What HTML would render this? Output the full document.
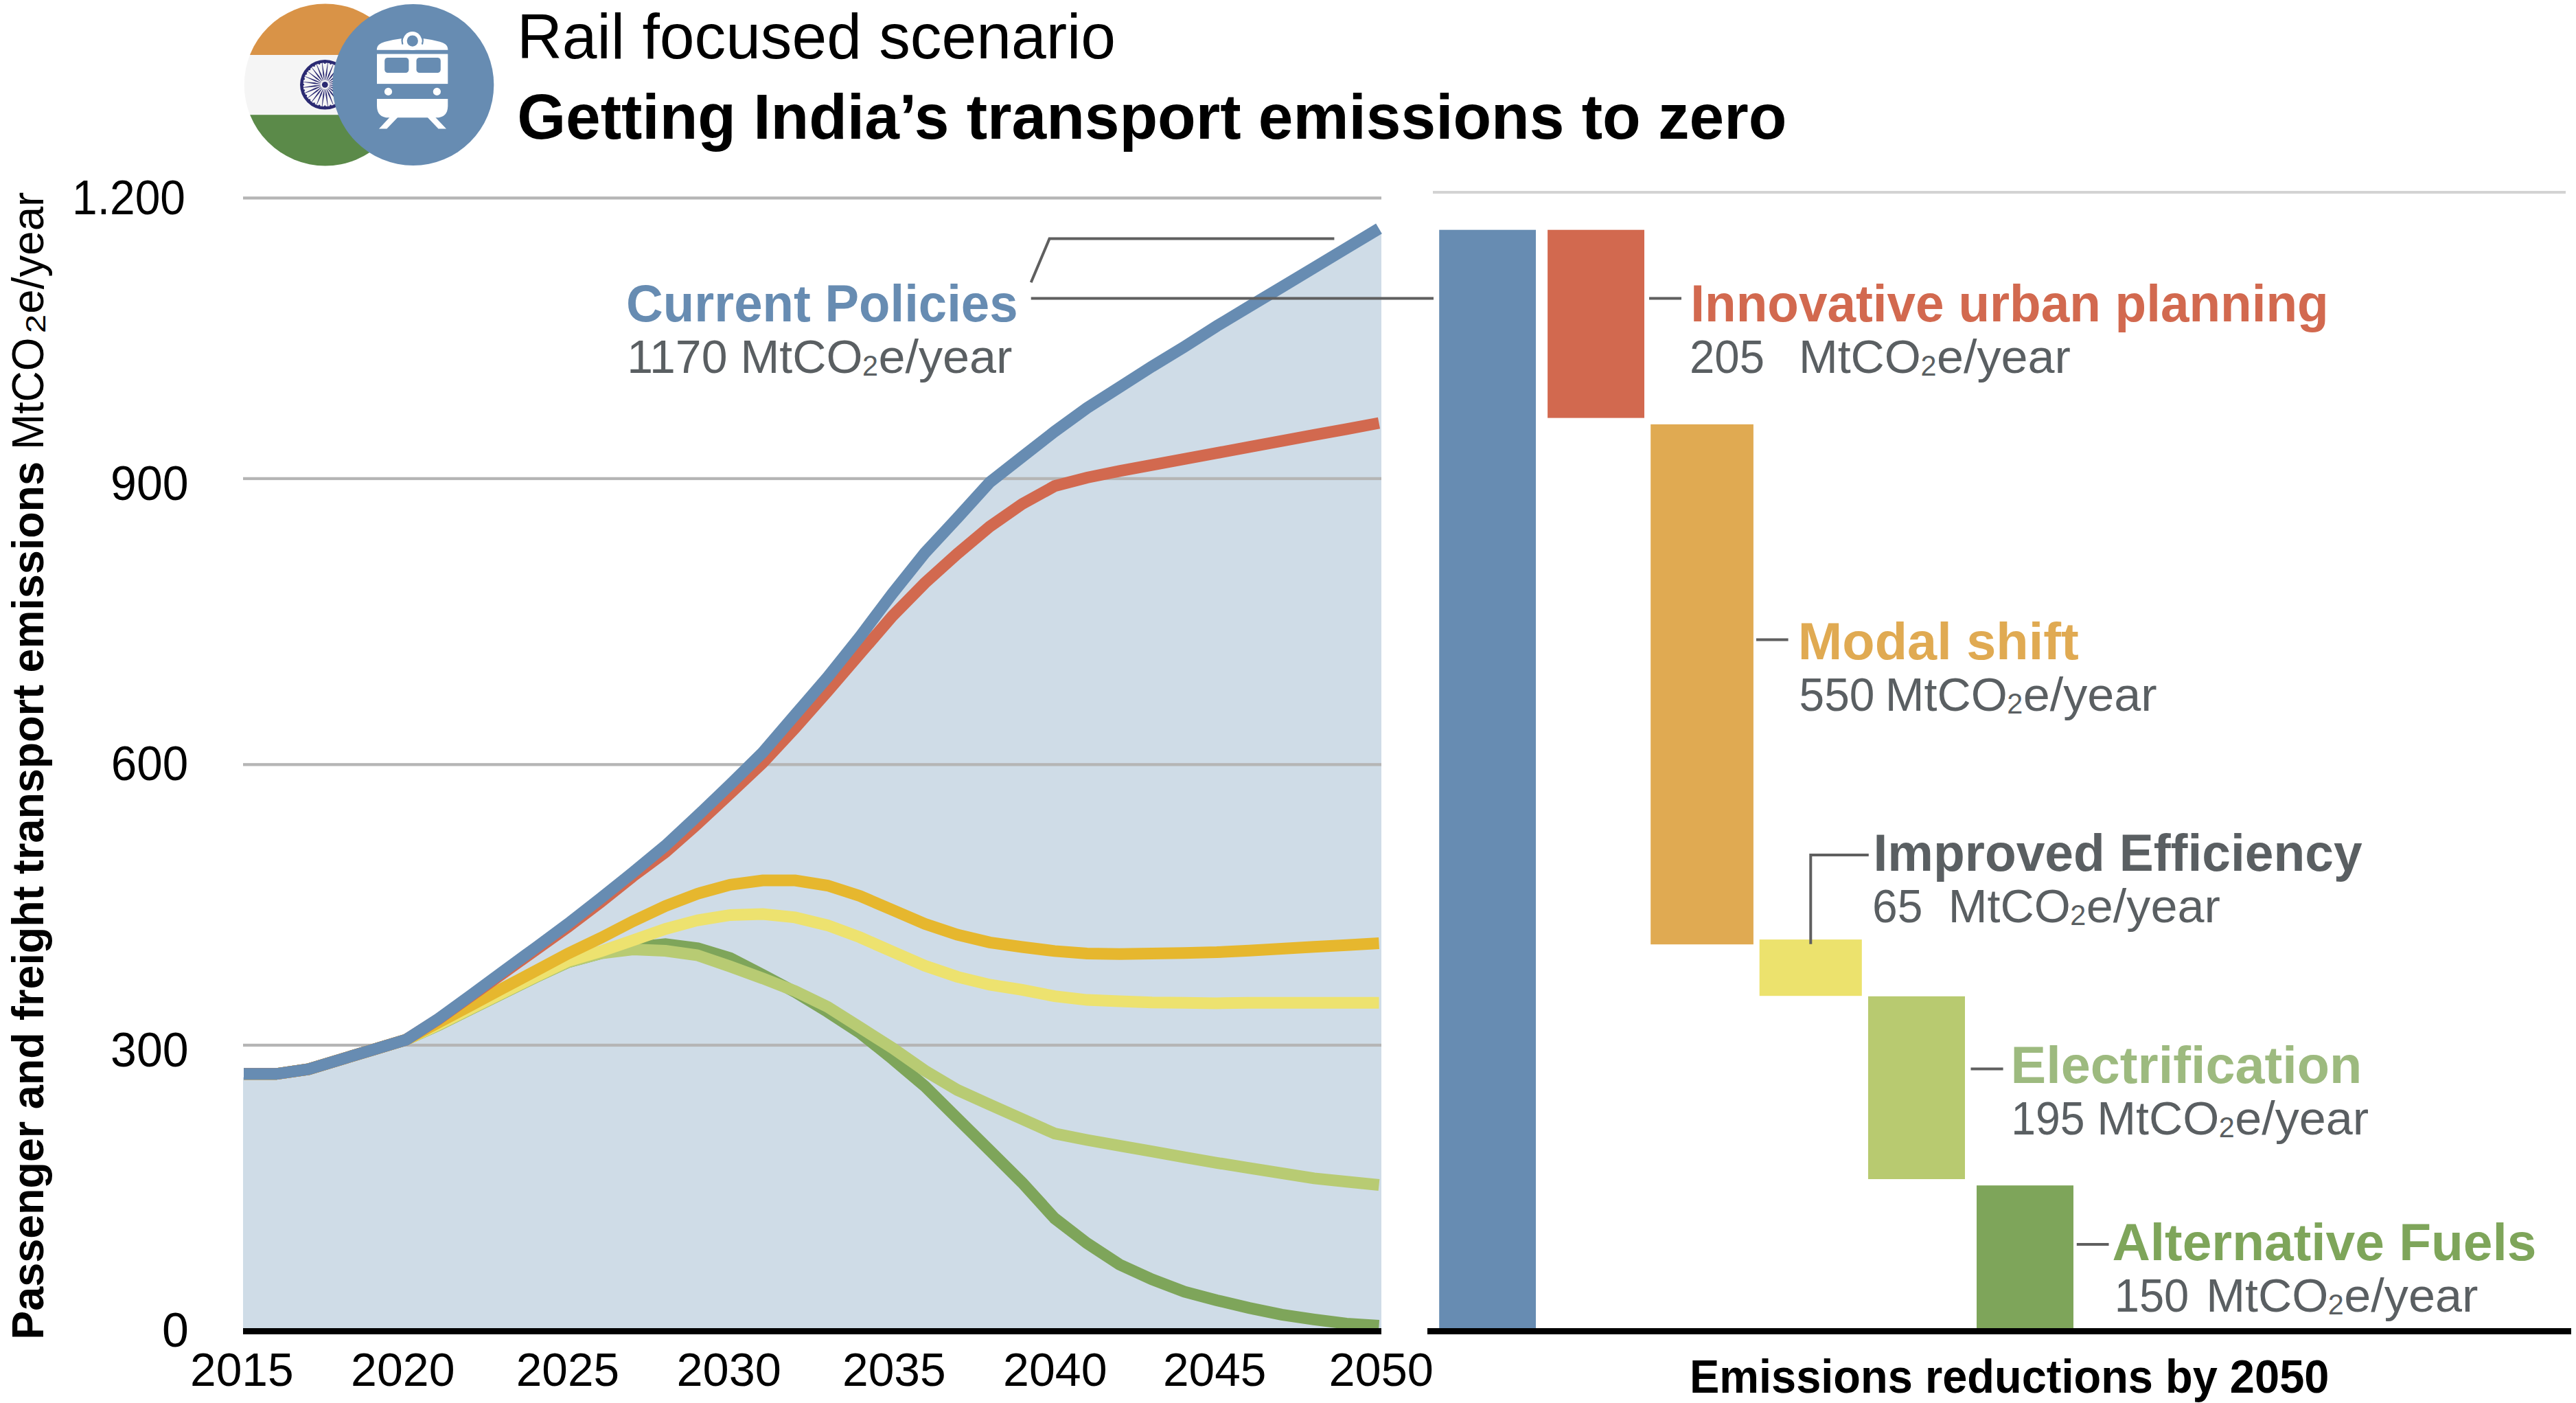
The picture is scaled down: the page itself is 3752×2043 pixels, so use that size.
<!DOCTYPE html>
<html><head><meta charset="utf-8"><title>Rail focused scenario</title>
<style>html,body{margin:0;padding:0;background:#fff;overflow:hidden}svg{display:block}</style>
</head><body>
<svg width="3752" height="2043" viewBox="0 0 3752 2043">
<rect width="3752" height="2043" fill="#fff"/>
<g>
<clipPath id="fc"><circle cx="473.7" cy="123.4" r="118"/></clipPath>
<g clip-path="url(#fc)"><rect x="350" y="0" width="250" height="80" fill="#d99347"/><rect x="350" y="80" width="250" height="87.2" fill="#f5f5f5"/><rect x="350" y="167.2" width="250" height="80" fill="#5b8a49"/></g>
<circle cx="473.30" cy="123.30" r="34" fill="none" stroke="#2b2a72" stroke-width="4.6"/>
<path d="M479.71,124.40 L488.04,126.25 L504.49,127.71 L504.57,127.11 L488.30,124.27 L479.78,123.90 Z M479.21,126.02 L486.78,129.96 L502.29,135.63 L502.52,135.08 L487.54,128.12 L479.40,125.56 Z M478.30,127.46 L484.59,133.22 L498.11,142.71 L498.47,142.24 L485.81,131.64 L478.61,127.06 Z M477.06,128.61 L481.64,135.81 L492.24,148.47 L492.71,148.11 L483.22,134.59 L477.46,128.30 Z M475.56,129.40 L478.12,137.54 L485.08,152.52 L485.63,152.29 L479.96,136.78 L476.02,129.21 Z M473.90,129.78 L474.27,138.30 L477.11,154.57 L477.71,154.49 L476.25,138.04 L474.40,129.71 Z M472.20,129.71 L470.35,138.04 L468.89,154.49 L469.49,154.57 L472.33,138.30 L472.70,129.78 Z M470.58,129.21 L466.64,136.78 L460.97,152.29 L461.52,152.52 L468.48,137.54 L471.04,129.40 Z M469.14,128.30 L463.38,134.59 L453.89,148.11 L454.36,148.47 L464.96,135.81 L469.54,128.61 Z M467.99,127.06 L460.79,131.64 L448.13,142.24 L448.49,142.71 L462.01,133.22 L468.30,127.46 Z M467.20,125.56 L459.06,128.12 L444.08,135.08 L444.31,135.63 L459.82,129.96 L467.39,126.02 Z M466.82,123.90 L458.30,124.27 L442.03,127.11 L442.11,127.71 L458.56,126.25 L466.89,124.40 Z M466.89,122.20 L458.56,120.35 L442.11,118.89 L442.03,119.49 L458.30,122.33 L466.82,122.70 Z M467.39,120.58 L459.82,116.64 L444.31,110.97 L444.08,111.52 L459.06,118.48 L467.20,121.04 Z M468.30,119.14 L462.01,113.38 L448.49,103.89 L448.13,104.36 L460.79,114.96 L467.99,119.54 Z M469.54,117.99 L464.96,110.79 L454.36,98.13 L453.89,98.49 L463.38,112.01 L469.14,118.30 Z M471.04,117.20 L468.48,109.06 L461.52,94.08 L460.97,94.31 L466.64,109.82 L470.58,117.39 Z M472.70,116.82 L472.33,108.30 L469.49,92.03 L468.89,92.11 L470.35,108.56 L472.20,116.89 Z M474.40,116.89 L476.25,108.56 L477.71,92.11 L477.11,92.03 L474.27,108.30 L473.90,116.82 Z M476.02,117.39 L479.96,109.82 L485.63,94.31 L485.08,94.08 L478.12,109.06 L475.56,117.20 Z M477.46,118.30 L483.22,112.01 L492.71,98.49 L492.24,98.13 L481.64,110.79 L477.06,117.99 Z M478.61,119.54 L485.81,114.96 L498.47,104.36 L498.11,103.89 L484.59,113.38 L478.30,119.14 Z M479.40,121.04 L487.54,118.48 L502.52,111.52 L502.29,110.97 L486.78,116.64 L479.21,120.58 Z M479.78,122.70 L488.30,122.33 L504.57,119.49 L504.49,118.89 L488.04,120.35 L479.71,122.20 Z" fill="#2b2a72"/>
<circle cx="504.90" cy="123.30" r="1.3" fill="#2b2a72"/><circle cx="503.82" cy="131.48" r="1.3" fill="#2b2a72"/><circle cx="500.67" cy="139.10" r="1.3" fill="#2b2a72"/><circle cx="495.64" cy="145.64" r="1.3" fill="#2b2a72"/><circle cx="489.10" cy="150.67" r="1.3" fill="#2b2a72"/><circle cx="481.48" cy="153.82" r="1.3" fill="#2b2a72"/><circle cx="473.30" cy="154.90" r="1.3" fill="#2b2a72"/><circle cx="465.12" cy="153.82" r="1.3" fill="#2b2a72"/><circle cx="457.50" cy="150.67" r="1.3" fill="#2b2a72"/><circle cx="450.96" cy="145.64" r="1.3" fill="#2b2a72"/><circle cx="445.93" cy="139.10" r="1.3" fill="#2b2a72"/><circle cx="442.78" cy="131.48" r="1.3" fill="#2b2a72"/><circle cx="441.70" cy="123.30" r="1.3" fill="#2b2a72"/><circle cx="442.78" cy="115.12" r="1.3" fill="#2b2a72"/><circle cx="445.93" cy="107.50" r="1.3" fill="#2b2a72"/><circle cx="450.96" cy="100.96" r="1.3" fill="#2b2a72"/><circle cx="457.50" cy="95.93" r="1.3" fill="#2b2a72"/><circle cx="465.12" cy="92.78" r="1.3" fill="#2b2a72"/><circle cx="473.30" cy="91.70" r="1.3" fill="#2b2a72"/><circle cx="481.48" cy="92.78" r="1.3" fill="#2b2a72"/><circle cx="489.10" cy="95.93" r="1.3" fill="#2b2a72"/><circle cx="495.64" cy="100.96" r="1.3" fill="#2b2a72"/><circle cx="500.67" cy="107.50" r="1.3" fill="#2b2a72"/><circle cx="503.82" cy="115.12" r="1.3" fill="#2b2a72"/>
<circle cx="473.30" cy="123.30" r="4.4" fill="#2b2a72"/>
<circle cx="601.8" cy="123.5" r="117.5" fill="#678cb2"/>
<path d="M548.8,72.8 C548.9,66.5 552.5,63.2 561,60.8 Q572,57.8 585.5,56.1 L616,56.1 Q629.5,57.8 640.5,60.8 C649,63.2 652.3,66.5 652.4,72.8 Z" fill="#ffffff"/>
<path d="M586.0,55.4 A14.9,14.9 0 0 0 586.3,63.6 M615.4,55.4 A14.9,14.9 0 0 1 615.1,63.6" fill="none" stroke="#678cb2" stroke-width="2.4" stroke-linecap="round"/>
<circle cx="600.7" cy="59.5" r="13.6" fill="#ffffff"/>
<circle cx="600.8" cy="59.6" r="8.1" fill="#678cb2"/>
<rect x="549" y="78.6" width="103.3" height="43.5" fill="#ffffff"/>
<rect x="560.2" y="84" width="35.2" height="22" rx="4.5" fill="#678cb2"/>
<rect x="606.5" y="84" width="35.3" height="22" rx="4.5" fill="#678cb2"/>
<circle cx="565.5" cy="133.4" r="5.6" fill="#ffffff"/><circle cx="636.4" cy="133.4" r="5.6" fill="#ffffff"/>
<path d="M549,144.1 L652.3,144.1 L652.3,153.9 Q652.3,171.3 634.9,171.3 L566.4,171.3 Q549,171.3 549,153.9 Z" fill="#ffffff"/>
<path d="M567.4,171 L579.2,171 L563.4,187.6 L552,187.6 Z M622.8,171 L634.3,171 L650,187.6 L638.5,187.6 Z" fill="#ffffff"/>
</g>
<text x="753.0" y="85.0" style="font-family:'Liberation Sans',sans-serif;font-size:93.6px;font-weight:normal" fill="#000" text-anchor="start" textLength="872.0" lengthAdjust="spacingAndGlyphs" >Rail focused scenario</text>
<text x="753.2" y="202.0" style="font-family:'Liberation Sans',sans-serif;font-size:93.5px;font-weight:bold" fill="#000" text-anchor="start" textLength="1849.1" lengthAdjust="spacingAndGlyphs" >Getting India’s transport emissions to zero</text>
<polygon points="354,1934 354,1568.8 355.0,1568.8 402.2,1568.8 449.5,1562.0 496.7,1547.6 544.0,1533.3 591.2,1519.1 638.5,1488.6 685.7,1454.4 732.9,1419.5 780.2,1385.0 827.4,1350.2 874.7,1313.2 921.9,1275.5 969.2,1236.4 1016.4,1192.6 1063.6,1147.3 1110.9,1100.7 1158.1,1045.9 1205.4,991.1 1252.6,932.1 1299.9,869.1 1347.1,810.1 1394.3,759.4 1441.6,707.3 1488.8,670.3 1536.1,633.3 1583.3,599.1 1630.6,568.9 1677.8,538.7 1725.0,510.0 1772.3,479.8 1819.5,451.4 1866.8,423.1 1914.0,394.7 1961.3,366.3 2008.5,337.9 2012,340.9 2012,1934" fill="#cfdce7"/>
<rect x="354" y="286.2" width="1658" height="4.3" fill="#b5b5b5"/>
<rect x="354" y="694.8" width="1658" height="4.3" fill="#b5b5b5"/>
<rect x="354" y="1111.2" width="1658" height="4.3" fill="#b5b5b5"/>
<rect x="354" y="1519.8" width="1658" height="4.3" fill="#b5b5b5"/>
<polyline points="355.0,1563.8 402.2,1563.8 449.5,1557.0 496.7,1542.6 544.0,1528.3 591.2,1514.1 638.5,1492.8 685.7,1469.5 732.9,1446.2 780.2,1422.9 827.4,1401.0 874.7,1388.2 921.9,1379.7 969.2,1374.7 1016.4,1380.8 1063.6,1395.2 1110.9,1419.5 1158.1,1444.6 1205.4,1473.3 1252.6,1504.0 1299.9,1541.9 1347.1,1581.8 1394.3,1628.5 1441.6,1675.2 1488.8,1722.1 1536.1,1774.1 1583.3,1810.4 1630.6,1841.4 1677.8,1863.0 1725.0,1881.0 1772.3,1893.5 1819.5,1904.6 1866.8,1914.4 1914.0,1921.3 1961.3,1927.4 2008.5,1930.5" fill="none" stroke="#7ea55a" stroke-width="17" stroke-linejoin="miter" stroke-miterlimit="4" stroke-linecap="butt"/>
<polyline points="355.0,1563.8 402.2,1563.8 449.5,1557.0 496.7,1542.6 544.0,1528.3 591.2,1514.1 638.5,1492.8 685.7,1469.5 732.9,1446.2 780.2,1422.9 827.4,1401.0 874.7,1388.2 921.9,1382.5 969.2,1384.5 1016.4,1391.2 1063.6,1407.4 1110.9,1424.7 1158.1,1443.2 1205.4,1466.1 1252.6,1496.0 1299.9,1526.1 1347.1,1559.0 1394.3,1587.1 1441.6,1608.6 1488.8,1629.5 1536.1,1650.6 1583.3,1660.0 1630.6,1668.4 1677.8,1676.7 1725.0,1685.1 1772.3,1693.3 1819.5,1700.9 1866.8,1708.4 1914.0,1715.9 1961.3,1720.7 2008.5,1725.5" fill="none" stroke="#b8cb73" stroke-width="17" stroke-linejoin="miter" stroke-miterlimit="4" stroke-linecap="butt"/>
<polyline points="355.0,1563.8 402.2,1563.8 449.5,1557.0 496.7,1542.6 544.0,1528.3 591.2,1514.1 638.5,1491.8 685.7,1468.5 732.9,1445.2 780.2,1421.9 827.4,1399.3 874.7,1385.5 921.9,1369.2 969.2,1352.7 1016.4,1340.0 1063.6,1332.4 1110.9,1331.1 1158.1,1335.9 1205.4,1347.4 1252.6,1364.9 1299.9,1385.8 1347.1,1406.2 1394.3,1422.4 1441.6,1433.9 1488.8,1441.3 1536.1,1450.7 1583.3,1456.1 1630.6,1458.1 1677.8,1459.8 1725.0,1460.3 1772.3,1460.9 1819.5,1460.3 1866.8,1460.3 1914.0,1460.3 1961.3,1460.3 2008.5,1460.3" fill="none" stroke="#ede26f" stroke-width="17" stroke-linejoin="miter" stroke-miterlimit="4" stroke-linecap="butt"/>
<polyline points="355.0,1563.8 402.2,1563.8 449.5,1557.0 496.7,1542.6 544.0,1528.3 591.2,1514.1 638.5,1489.0 685.7,1463.9 732.9,1438.8 780.2,1413.7 827.4,1388.6 874.7,1366.0 921.9,1341.5 969.2,1319.3 1016.4,1301.3 1063.6,1288.3 1110.9,1282.1 1158.1,1282.1 1205.4,1289.5 1252.6,1304.7 1299.9,1325.0 1347.1,1345.3 1394.3,1361.1 1441.6,1372.3 1488.8,1379.0 1536.1,1384.9 1583.3,1388.5 1630.6,1389.2 1677.8,1388.5 1725.0,1387.7 1772.3,1386.6 1819.5,1384.2 1866.8,1381.5 1914.0,1378.8 1961.3,1376.2 2008.5,1373.6" fill="none" stroke="#e6b72e" stroke-width="17" stroke-linejoin="miter" stroke-miterlimit="4" stroke-linecap="butt"/>
<polyline points="355.0,1563.8 402.2,1563.8 449.5,1557.0 496.7,1542.6 544.0,1528.3 591.2,1514.1 638.5,1484.2 685.7,1450.6 732.9,1417.0 780.2,1383.3 827.4,1349.7 874.7,1313.7 921.9,1276.0 969.2,1241.0 1016.4,1199.2 1063.6,1155.3 1110.9,1110.8 1158.1,1060.1 1205.4,1006.6 1252.6,951.8 1299.9,897.0 1347.1,849.0 1394.3,806.5 1441.6,766.8 1488.8,733.9 1536.1,707.8 1583.3,695.5 1630.6,685.9 1677.8,677.1 1725.0,668.3 1772.3,659.7 1819.5,650.9 1866.8,642.2 1914.0,633.4 1961.3,624.8 2008.5,616.0" fill="none" stroke="#d2694f" stroke-width="17" stroke-linejoin="miter" stroke-miterlimit="4" stroke-linecap="butt"/>
<polyline points="355.0,1563.8 402.2,1563.8 449.5,1557.0 496.7,1542.6 544.0,1528.3 591.2,1514.1 638.5,1483.6 685.7,1449.4 732.9,1414.5 780.2,1380.0 827.4,1345.2 874.7,1308.2 921.9,1270.5 969.2,1231.4 1016.4,1187.6 1063.6,1142.3 1110.9,1095.7 1158.1,1040.9 1205.4,986.1 1252.6,927.1 1299.9,864.1 1347.1,805.1 1394.3,754.4 1441.6,702.3 1488.8,665.3 1536.1,628.3 1583.3,594.1 1630.6,563.9 1677.8,533.7 1725.0,505.0 1772.3,474.8 1819.5,446.4 1866.8,418.1 1914.0,389.7 1961.3,361.3 2008.5,332.9" fill="none" stroke="#678cb2" stroke-width="17" stroke-linejoin="miter" stroke-miterlimit="4" stroke-linecap="butt"/>
<rect x="354" y="1934" width="1658" height="9" fill="#000"/>
<text x="236.0" y="1961.1" style="font-family:'Liberation Sans',sans-serif;font-size:69.5px;font-weight:normal" fill="#000" text-anchor="start" textLength="38.9" lengthAdjust="spacingAndGlyphs" >0</text>
<text x="161.1" y="1553.0" style="font-family:'Liberation Sans',sans-serif;font-size:69.5px;font-weight:normal" fill="#000" text-anchor="start" textLength="113.6" lengthAdjust="spacingAndGlyphs" >300</text>
<text x="161.8" y="1136.2" style="font-family:'Liberation Sans',sans-serif;font-size:69.5px;font-weight:normal" fill="#000" text-anchor="start" textLength="112.5" lengthAdjust="spacingAndGlyphs" >600</text>
<text x="161.1" y="728.1" style="font-family:'Liberation Sans',sans-serif;font-size:69.5px;font-weight:normal" fill="#000" text-anchor="start" textLength="113.6" lengthAdjust="spacingAndGlyphs" >900</text>
<text x="105.0" y="311.6" style="font-family:'Liberation Sans',sans-serif;font-size:69.5px;font-weight:normal" fill="#000" text-anchor="start" textLength="165.0" lengthAdjust="spacingAndGlyphs" >1.200</text>
<text x="277.0" y="2017.6" style="font-family:'Liberation Sans',sans-serif;font-size:69.0px;font-weight:normal" fill="#000" text-anchor="start" textLength="150.7" lengthAdjust="spacingAndGlyphs" >2015</text>
<text x="511.1" y="2017.6" style="font-family:'Liberation Sans',sans-serif;font-size:69.0px;font-weight:normal" fill="#000" text-anchor="start" textLength="151.4" lengthAdjust="spacingAndGlyphs" >2020</text>
<text x="751.8" y="2017.6" style="font-family:'Liberation Sans',sans-serif;font-size:69.0px;font-weight:normal" fill="#000" text-anchor="start" textLength="150.2" lengthAdjust="spacingAndGlyphs" >2025</text>
<text x="985.5" y="2017.6" style="font-family:'Liberation Sans',sans-serif;font-size:69.0px;font-weight:normal" fill="#000" text-anchor="start" textLength="152.5" lengthAdjust="spacingAndGlyphs" >2030</text>
<text x="1227.0" y="2017.6" style="font-family:'Liberation Sans',sans-serif;font-size:69.0px;font-weight:normal" fill="#000" text-anchor="start" textLength="150.7" lengthAdjust="spacingAndGlyphs" >2035</text>
<text x="1461.1" y="2017.6" style="font-family:'Liberation Sans',sans-serif;font-size:69.0px;font-weight:normal" fill="#000" text-anchor="start" textLength="151.4" lengthAdjust="spacingAndGlyphs" >2040</text>
<text x="1694.0" y="2017.6" style="font-family:'Liberation Sans',sans-serif;font-size:69.0px;font-weight:normal" fill="#000" text-anchor="start" textLength="150.3" lengthAdjust="spacingAndGlyphs" >2045</text>
<text x="1935.5" y="2017.6" style="font-family:'Liberation Sans',sans-serif;font-size:69.0px;font-weight:normal" fill="#000" text-anchor="start" textLength="152.5" lengthAdjust="spacingAndGlyphs" >2050</text>
<text transform="translate(62.6,1950.7) rotate(-90)" style="font-family:'Liberation Sans',sans-serif;font-size:65.4px;font-weight:bold" fill="#000" textLength="1278.7" lengthAdjust="spacingAndGlyphs">Passenger and freight transport emissions</text>
<text transform="translate(62.6,655.0) rotate(-90)" style="font-family:'Liberation Sans',sans-serif;font-size:65.4px;font-weight:normal" fill="#000" textLength="163.5" lengthAdjust="spacingAndGlyphs">MtCO</text>
<text transform="translate(66.0,485.3) rotate(-90)" style="font-family:'Liberation Sans',sans-serif;font-size:40.0px;font-weight:normal" fill="#000" textLength="27.6" lengthAdjust="spacingAndGlyphs">2</text>
<text transform="translate(62.6,456.7) rotate(-90)" style="font-family:'Liberation Sans',sans-serif;font-size:65.4px;font-weight:normal" fill="#000" textLength="177.0" lengthAdjust="spacingAndGlyphs">e/year</text>
<text x="912.1" y="468.0" style="font-family:'Liberation Sans',sans-serif;font-size:76.0px;font-weight:bold" fill="#678cb2" text-anchor="start" textLength="570.5" lengthAdjust="spacingAndGlyphs" >Current Policies</text>
<text x="913.3" y="542.7" style="font-family:'Liberation Sans',sans-serif;font-size:67.6px;font-weight:normal" fill="#5a5f62" text-anchor="start" textLength="146.2" lengthAdjust="spacingAndGlyphs" >1170</text>
<text x="1078.5" y="542.7" style="font-family:'Liberation Sans',sans-serif;font-size:67.6px;font-weight:normal" fill="#5a5f62" text-anchor="start" textLength="178.0" lengthAdjust="spacingAndGlyphs" >MtCO</text><text x="1256.0" y="546.7" style="font-family:'Liberation Sans',sans-serif;font-size:42.0px;font-weight:normal" fill="#5a5f62" text-anchor="start" textLength="23.0" lengthAdjust="spacingAndGlyphs" >2</text><text x="1279.5" y="542.7" style="font-family:'Liberation Sans',sans-serif;font-size:67.6px;font-weight:normal" fill="#5a5f62" text-anchor="start" textLength="195.0" lengthAdjust="spacingAndGlyphs" >e/year</text>
<path d="M1501.7,411.3 L1528.5,347.6 L1943.4,347.6" fill="none" stroke="#5f5f5f" stroke-width="4"/>
<path d="M1501.7,434.5 L2088,434.5" fill="none" stroke="#5f5f5f" stroke-width="4"/>
<rect x="2087" y="278" width="1650" height="4" fill="#d3d3d3"/>
<rect x="2096.2" y="334.7" width="140.8" height="1599.3" fill="#678cb2"/>
<rect x="2254.1" y="334.7" width="140.9" height="273.9" fill="#d2694f"/>
<rect x="2404.2" y="617.9" width="149.7" height="757.3" fill="#e0aa52"/>
<rect x="2562.7" y="1368.1" width="149.1" height="82.1" fill="#ece26d"/>
<rect x="2721.0" y="1450.8" width="141.0" height="266.2" fill="#b8ca70"/>
<rect x="2879.0" y="1726.2" width="141.0" height="207.8" fill="#7ea55a"/>
<rect x="2079" y="1934" width="1666" height="9" fill="#000"/>
<path d="M2402,434.5 L2449,434.5 M2558,931.5 L2604.6,931.5 M2637.3,1374.7 L2637.3,1245 L2721.8,1245 M2870.5,1556.6 L2917.6,1556.6 M3024.8,1812 L3071.5,1812" fill="none" stroke="#5f5f5f" stroke-width="4"/>
<text x="2462.3" y="467.6" style="font-family:'Liberation Sans',sans-serif;font-size:76.0px;font-weight:bold" fill="#d2694f" text-anchor="start" textLength="929.4" lengthAdjust="spacingAndGlyphs" >Innovative urban planning</text>
<text x="2461.0" y="543.0" style="font-family:'Liberation Sans',sans-serif;font-size:67.6px;font-weight:normal" fill="#5a5f62" text-anchor="start" textLength="109.0" lengthAdjust="spacingAndGlyphs" >205</text>
<text x="2619.9" y="543.0" style="font-family:'Liberation Sans',sans-serif;font-size:67.6px;font-weight:normal" fill="#5a5f62" text-anchor="start" textLength="178.0" lengthAdjust="spacingAndGlyphs" >MtCO</text><text x="2797.4" y="547.0" style="font-family:'Liberation Sans',sans-serif;font-size:42.0px;font-weight:normal" fill="#5a5f62" text-anchor="start" textLength="23.0" lengthAdjust="spacingAndGlyphs" >2</text><text x="2820.9" y="543.0" style="font-family:'Liberation Sans',sans-serif;font-size:67.6px;font-weight:normal" fill="#5a5f62" text-anchor="start" textLength="195.0" lengthAdjust="spacingAndGlyphs" >e/year</text>
<text x="2618.8" y="959.6" style="font-family:'Liberation Sans',sans-serif;font-size:76.0px;font-weight:bold" fill="#e0aa52" text-anchor="start" textLength="409.0" lengthAdjust="spacingAndGlyphs" >Modal shift</text>
<text x="2620.6" y="1034.9" style="font-family:'Liberation Sans',sans-serif;font-size:67.6px;font-weight:normal" fill="#5a5f62" text-anchor="start" textLength="109.9" lengthAdjust="spacingAndGlyphs" >550</text>
<text x="2745.7" y="1034.9" style="font-family:'Liberation Sans',sans-serif;font-size:67.6px;font-weight:normal" fill="#5a5f62" text-anchor="start" textLength="178.0" lengthAdjust="spacingAndGlyphs" >MtCO</text><text x="2923.2" y="1038.9" style="font-family:'Liberation Sans',sans-serif;font-size:42.0px;font-weight:normal" fill="#5a5f62" text-anchor="start" textLength="23.0" lengthAdjust="spacingAndGlyphs" >2</text><text x="2946.7" y="1034.9" style="font-family:'Liberation Sans',sans-serif;font-size:67.6px;font-weight:normal" fill="#5a5f62" text-anchor="start" textLength="195.0" lengthAdjust="spacingAndGlyphs" >e/year</text>
<text x="2728.5" y="1267.6" style="font-family:'Liberation Sans',sans-serif;font-size:76.0px;font-weight:bold" fill="#5a5f62" text-anchor="start" textLength="712.2" lengthAdjust="spacingAndGlyphs" >Improved Efficiency</text>
<text x="2727.0" y="1343.1" style="font-family:'Liberation Sans',sans-serif;font-size:67.6px;font-weight:normal" fill="#5a5f62" text-anchor="start" textLength="73.4" lengthAdjust="spacingAndGlyphs" >65</text>
<text x="2837.8" y="1343.1" style="font-family:'Liberation Sans',sans-serif;font-size:67.6px;font-weight:normal" fill="#5a5f62" text-anchor="start" textLength="178.0" lengthAdjust="spacingAndGlyphs" >MtCO</text><text x="3015.3" y="1347.1" style="font-family:'Liberation Sans',sans-serif;font-size:42.0px;font-weight:normal" fill="#5a5f62" text-anchor="start" textLength="23.0" lengthAdjust="spacingAndGlyphs" >2</text><text x="3038.8" y="1343.1" style="font-family:'Liberation Sans',sans-serif;font-size:67.6px;font-weight:normal" fill="#5a5f62" text-anchor="start" textLength="195.0" lengthAdjust="spacingAndGlyphs" >e/year</text>
<text x="2928.5" y="1577.0" style="font-family:'Liberation Sans',sans-serif;font-size:76.0px;font-weight:bold" fill="#9dba7f" text-anchor="start" textLength="511.9" lengthAdjust="spacingAndGlyphs" >Electrification</text>
<text x="2929.2" y="1652.2" style="font-family:'Liberation Sans',sans-serif;font-size:67.6px;font-weight:normal" fill="#5a5f62" text-anchor="start" textLength="107.4" lengthAdjust="spacingAndGlyphs" >195</text>
<text x="3054.2" y="1652.2" style="font-family:'Liberation Sans',sans-serif;font-size:67.6px;font-weight:normal" fill="#5a5f62" text-anchor="start" textLength="178.0" lengthAdjust="spacingAndGlyphs" >MtCO</text><text x="3231.7" y="1656.2" style="font-family:'Liberation Sans',sans-serif;font-size:42.0px;font-weight:normal" fill="#5a5f62" text-anchor="start" textLength="23.0" lengthAdjust="spacingAndGlyphs" >2</text><text x="3255.2" y="1652.2" style="font-family:'Liberation Sans',sans-serif;font-size:67.6px;font-weight:normal" fill="#5a5f62" text-anchor="start" textLength="195.0" lengthAdjust="spacingAndGlyphs" >e/year</text>
<text x="3076.4" y="1835.2" style="font-family:'Liberation Sans',sans-serif;font-size:76.0px;font-weight:bold" fill="#7ea55a" text-anchor="start" textLength="618.1" lengthAdjust="spacingAndGlyphs" >Alternative Fuels</text>
<text x="3079.7" y="1910.0" style="font-family:'Liberation Sans',sans-serif;font-size:67.6px;font-weight:normal" fill="#5a5f62" text-anchor="start" textLength="108.6" lengthAdjust="spacingAndGlyphs" >150</text>
<text x="3213.3" y="1910.0" style="font-family:'Liberation Sans',sans-serif;font-size:67.6px;font-weight:normal" fill="#5a5f62" text-anchor="start" textLength="178.0" lengthAdjust="spacingAndGlyphs" >MtCO</text><text x="3390.8" y="1914.0" style="font-family:'Liberation Sans',sans-serif;font-size:42.0px;font-weight:normal" fill="#5a5f62" text-anchor="start" textLength="23.0" lengthAdjust="spacingAndGlyphs" >2</text><text x="3414.3" y="1910.0" style="font-family:'Liberation Sans',sans-serif;font-size:67.6px;font-weight:normal" fill="#5a5f62" text-anchor="start" textLength="195.0" lengthAdjust="spacingAndGlyphs" >e/year</text>
<text x="2460.9" y="2027.7" style="font-family:'Liberation Sans',sans-serif;font-size:69.2px;font-weight:bold" fill="#000" text-anchor="start" textLength="931.5" lengthAdjust="spacingAndGlyphs" >Emissions reductions by 2050</text>
</svg>
</body></html>
